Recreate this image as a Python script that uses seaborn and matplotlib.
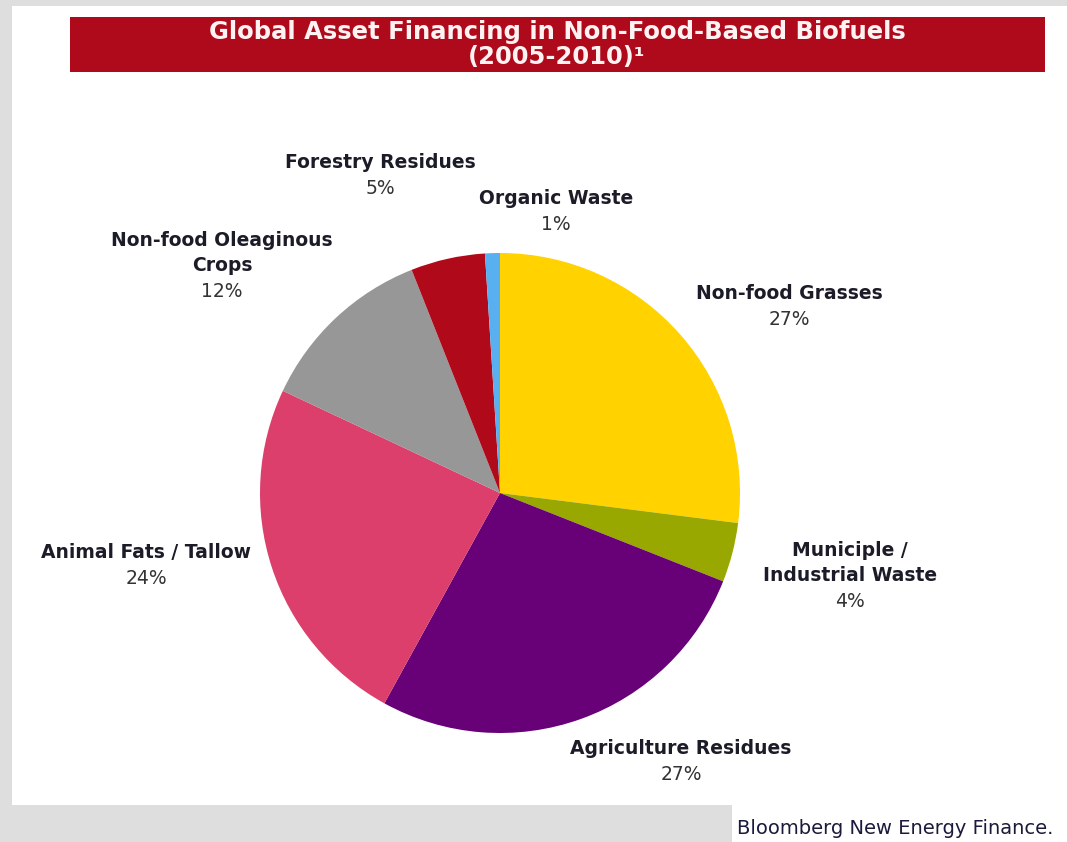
import matplotlib
matplotlib.use("Agg")
import matplotlib.pyplot as plt
from matplotlib.patches import Rectangle
import seaborn as sns

# Share of global asset financing by feedstock, 2005-2010 (%)
categories = [
    "Non-food Grasses",
    "Municiple /\nIndustrial Waste",
    "Agriculture Residues",
    "Animal Fats / Tallow",
    "Non-food Oleaginous\nCrops",
    "Forestry Residues",
    "Organic Waste",
]
shares = [27, 4, 27, 24, 12, 5, 1]
slice_colors = ["#FFD200", "#99A800", "#680078", "#DC3F6B", "#979797", "#B0091A", "#59B0F0"]

title_lines = ["Global Asset Financing in Non-Food-Based Biofuels", "(2005-2010)\u00b9"]
source_text = "Bloomberg New Energy Finance."

# Label anchor points in pixels (x, y from top): point between name and value
label_anchor_px = [
    (789, 306), (850, 588), (681, 761), (146, 565),
    (222, 278), (380, 175), (556, 211),
]

sns.set_theme(style="white")
plt.rcParams["font.family"] = ["DejaVu Sans"]

W, H = 1067, 842
fig = plt.figure(figsize=(W / 100, H / 100), dpi=100)
fig.patch.set_facecolor("#DEDEDE")

def px(x, y):
    return x / W, 1 - y / H

# White page panel
fig.patches.append(Rectangle(px(12, 805), (W - 12) / W, (805 - 6) / H,
                             transform=fig.transFigure, facecolor="white",
                             edgecolor="none", zorder=-2))
fig.patches.append(Rectangle(px(732, H), (W - 732) / W, (H - 805) / H,
                             transform=fig.transFigure, facecolor="white",
                             edgecolor="none", zorder=-2))
# Title banner
fig.patches.append(Rectangle(px(70, 72), (1045 - 70) / W, (72 - 17) / H,
                             transform=fig.transFigure, facecolor="#AE0A1C",
                             edgecolor="none", zorder=-1))
for i, line in enumerate(title_lines):
    fig.text(*px(557, 32 + 25 * i), line, ha="center", va="center",
             fontsize=17.5, fontweight="bold", color="#FFF2F2", zorder=2)

# Pie axes: centre (500, 493), radius 240 px
cx, cy, r = 500, 493, 240
ax = fig.add_axes([(cx - r) / W, (H - cy - r) / H, 2 * r / W, 2 * r / H])
ax.set_zorder(1)
ax.set_facecolor("none")
wedges, _ = ax.pie(shares, colors=slice_colors, startangle=90,
                   counterclock=False, radius=1,
                   wedgeprops=dict(linewidth=0))
ax.set_xlim(-1, 1)
ax.set_ylim(-1, 1)
ax.set_aspect("equal")
ax.axis("off")

for name, val, (lx, ly) in zip(categories, shares, label_anchor_px):
    x, y = px(lx, ly)
    fig.text(x, y + 3 / H, name, ha="center", va="bottom", fontsize=13.5,
             fontweight="bold", color="#1C1C28", linespacing=1.4)
    fig.text(x, y - 4 / H, f"{val}%", ha="center", va="top", fontsize=13.5,
             color="#333333")

fig.text(*px(737, 828), source_text, ha="left", va="center", fontsize=14,
         color="#1A1A3C")

fig.savefig("out.png", dpi=100, facecolor=fig.get_facecolor())
